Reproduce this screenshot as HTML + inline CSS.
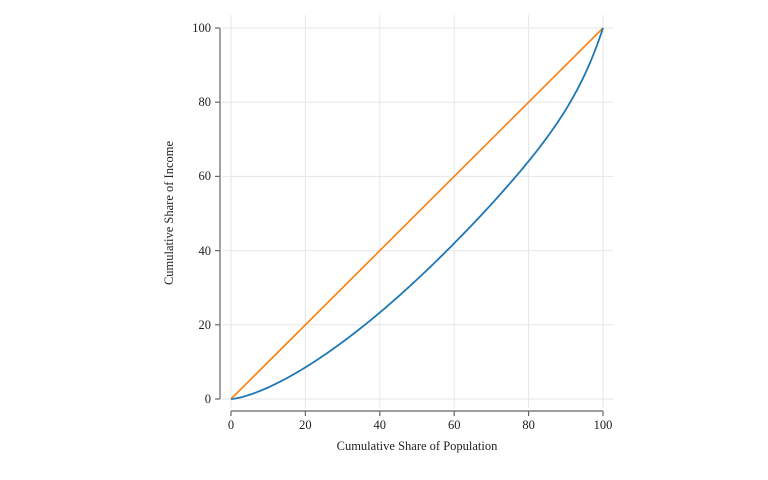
<!DOCTYPE html>
<html><head><style>body{margin:0;background:#fff}svg{display:block}text{font-family:"Liberation Serif",serif;font-size:12.5px;fill:#222}</style></head><body>
<svg width="768" height="480" viewBox="0 0 768 480">
<g stroke="#e6e6e6" stroke-width="1">
<line x1="231" y1="15" x2="231" y2="408"/><line x1="305.4" y1="15" x2="305.4" y2="408"/><line x1="379.8" y1="15" x2="379.8" y2="408"/><line x1="454.2" y1="15" x2="454.2" y2="408"/><line x1="528.6" y1="15" x2="528.6" y2="408"/><line x1="603" y1="15" x2="603" y2="408"/>
<line x1="222" y1="28" x2="613" y2="28"/><line x1="222" y1="102.2" x2="613" y2="102.2"/><line x1="222" y1="176.4" x2="613" y2="176.4"/><line x1="222" y1="250.6" x2="613" y2="250.6"/><line x1="222" y1="324.8" x2="613" y2="324.8"/><line x1="222" y1="399" x2="613" y2="399"/>
</g>
<g stroke="#666" stroke-width="1.2" fill="none">
<line x1="220" y1="28" x2="220" y2="399"/>
<line x1="215" y1="28" x2="220" y2="28"/><line x1="215" y1="102.2" x2="220" y2="102.2"/><line x1="215" y1="176.4" x2="220" y2="176.4"/><line x1="215" y1="250.6" x2="220" y2="250.6"/><line x1="215" y1="324.8" x2="220" y2="324.8"/><line x1="215" y1="399" x2="220" y2="399"/>
<line x1="231" y1="411" x2="603" y2="411"/>
<line x1="231" y1="411" x2="231" y2="416"/><line x1="305.4" y1="411" x2="305.4" y2="416"/><line x1="379.8" y1="411" x2="379.8" y2="416"/><line x1="454.2" y1="411" x2="454.2" y2="416"/><line x1="528.6" y1="411" x2="528.6" y2="416"/><line x1="603" y1="411" x2="603" y2="416"/>
</g>
<g text-anchor="end">
<text x="211" y="32">100</text><text x="211" y="106">80</text><text x="211" y="180">60</text><text x="211" y="255">40</text><text x="211" y="329">20</text><text x="211" y="403">0</text>
</g>
<g text-anchor="middle">
<text x="231" y="429">0</text><text x="305.4" y="429">20</text><text x="379.8" y="429">40</text><text x="454.2" y="429">60</text><text x="528.6" y="429">80</text><text x="603" y="429">100</text>
<text x="417" y="450">Cumulative Share of Population</text>
<text transform="translate(173,213) rotate(-90)">Cumulative Share of Income</text>
</g>
<line x1="231" y1="399" x2="603" y2="28" stroke="#ff7f0e" stroke-width="1.6"/>
<polyline id="lz" fill="none" stroke="#1f77b4" stroke-width="1.8" points="231,399 603,28"/>
</svg>
<script>
var pts=[];for(var i=0;i<=200;i++){var p=i/200;var L=0.88*Math.pow(p,1.45)+0.12*Math.pow(p,15);pts.push((231+372*p).toFixed(2)+","+(399-371*L).toFixed(2));}
document.getElementById("lz").setAttribute("points",pts.join(" "));
</script>
</body></html>
